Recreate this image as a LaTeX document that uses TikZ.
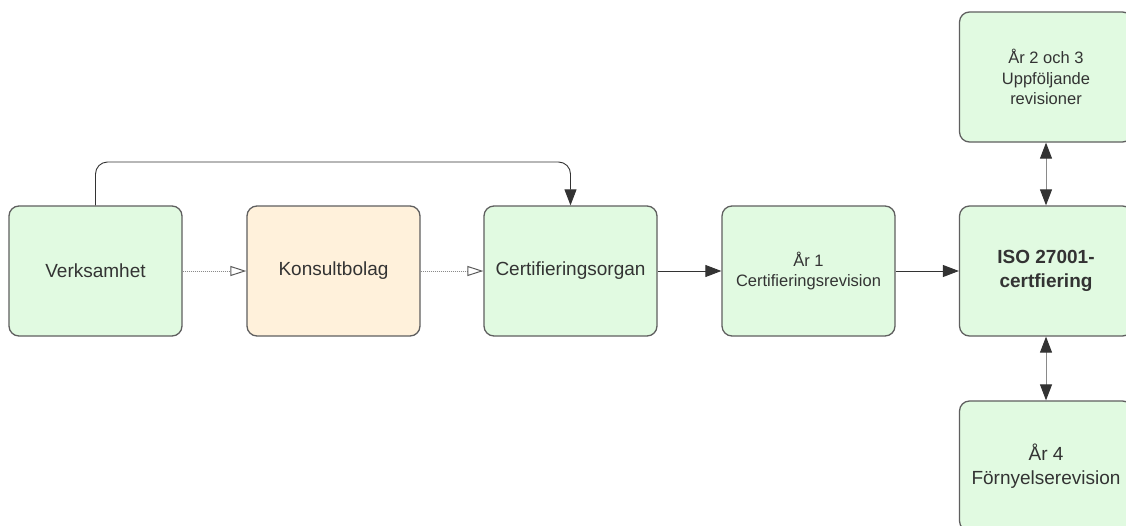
\documentclass[tikz,border=0pt]{standalone}
\usepackage{fontspec}
\setmainfont{Liberation Sans}
\usetikzlibrary{arrows.meta}
\definecolor{boxgreen}{HTML}{E1FAE1}
\definecolor{boxorange}{HTML}{FFF1DB}
\definecolor{edge}{HTML}{5F5F5F}
\definecolor{ink}{HTML}{333333}
\definecolor{thinline}{HTML}{8A8A8A}
\tikzset{
  card/.style={draw=edge, line width=1.3pt, rounded corners=10pt,
    minimum width=173pt, minimum height=130pt, align=center, text=ink,
    inner sep=0pt, font=\fontsize{19}{24}\selectfont},
  greencard/.style={card, fill=boxgreen},
  orangecard/.style={card, fill=boxorange},
  smalltext/.style={font=\fontsize{16.5}{20.5}\selectfont},
  flow/.style={draw=ink, line width=0.9pt, -{Triangle[length=16pt,width=12pt]}},
  handoff/.style={draw=thinline, line width=0.9pt, dash pattern=on 1pt off 1pt,
    -{Triangle[open,length=16pt,width=10pt,line width=1pt,color=ink!80]}},
  link/.style={draw=thinline, line width=1pt,
    {Triangle[length=16pt,width=12pt,color=ink]}-{Triangle[length=16pt,width=12pt,color=ink]}},
}
\begin{document}
\begin{tikzpicture}[x=1pt,y=-1pt]
  \fill[white] (0,0) rectangle (1126,525);
  \useasboundingbox (0,0) rectangle (1126,525);
  \clip (0,0) rectangle (1126,525);

  % main row
  \node[greencard]  (verk) at (95.5,271)  {Verksamhet};
  \node[orangecard] (kons) at (333.5,271) {Konsultbolag};
  \node[greencard]  (cert) at (570.5,271) {Certifieringsorgan};
  \node[greencard, smalltext] (ar1) at (808.5,271) {År 1\\Certifieringsrevision};
  \node[greencard, font=\fontsize{19}{24}\selectfont\bfseries] (iso) at (1046,271) {ISO 27001-\\certfiering};

  % follow-up audits above and renewal below
  \node[greencard, smalltext] (ar23) at (1046,77) {År 2 och 3\\Uppföljande\\revisioner};
  \node[greencard] (ar4) at (1046,466) {År 4\\Förnyelserevision};

  % connectors
  \draw[handoff] (verk.east) -- (kons.west);
  \draw[handoff] (kons.east) -- (cert.west);
  \draw[flow] (cert.east) -- (ar1.west);
  \draw[flow] (ar1.east) -- (iso.west);
  \draw[flow, rounded corners=12pt] (verk.north) -- (95.5,162) -- (570.5,162) -- (cert.north);
  \draw[link] (ar23.south) -- (iso.north);
  \draw[link] (iso.south) -- (ar4.north);
\end{tikzpicture}
\end{document}
